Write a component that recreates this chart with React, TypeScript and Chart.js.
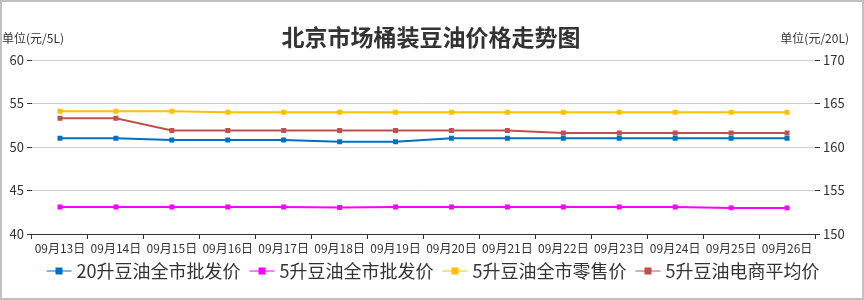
import { useEffect, useRef } from 'react';
import { Chart, registerables } from 'chart.js';

Chart.register(...registerables);

const FONT = "'Microsoft YaHei', 'Noto Sans CJK SC', sans-serif";

const titleText = '北京市场桶装豆油价格走势图';
const leftUnit = '单位(元/5L)';
const rightUnit = '单位(元/20L)';

const categories = [
  '09月13日', '09月14日', '09月15日', '09月16日', '09月17日', '09月18日', '09月19日',
  '09月20日', '09月21日', '09月22日', '09月23日', '09月24日', '09月25日', '09月26日',
];

const seriesNames = ['20升豆油全市批发价', '5升豆油全市批发价', '5升豆油全市零售价', '5升豆油电商平均价'];
const seriesColors = ['#0070C0', '#FF00FF', '#FFC000', '#C0504D'];
const seriesFade = ['rgba(0,112,192,0.5)', 'rgba(255,0,255,0.5)', 'rgba(255,192,0,0.5)', 'rgba(192,80,77,0.5)'];

const wholesale20L = [161.0, 161.0, 160.8, 160.8, 160.8, 160.6, 160.6, 161.0, 161.0, 161.0, 161.0, 161.0, 161.0, 161.0];
const wholesale5L = [43.1, 43.1, 43.1, 43.1, 43.1, 43.05, 43.1, 43.1, 43.1, 43.1, 43.1, 43.1, 43.0, 43.0];
const retail5L = [54.1, 54.1, 54.1, 54.0, 54.0, 54.0, 54.0, 54.0, 54.0, 54.0, 54.0, 54.0, 54.0, 54.0];
const ecommerce5L = [53.3, 53.3, 51.9, 51.9, 51.9, 51.9, 51.9, 51.9, 51.9, 51.6, 51.6, 51.6, 51.6, 51.6];

const leftMin = 40, leftMax = 60, rightMin = 150, rightMax = 170, tickStep = 5;

const decorPlugin = {
  id: 'decor',
  afterDraw(chart: any) {
    const ctx = chart.ctx as CanvasRenderingContext2D;
    const W = chart.width;
    ctx.save();
    // title
    ctx.fillStyle = '#333';
    ctx.font = `bold 23px ${FONT}`;
    ctx.textAlign = 'center';
    ctx.textBaseline = 'middle';
    ctx.fillText(titleText, 431, 37);
    // unit labels
    ctx.font = `12px ${FONT}`;
    ctx.textAlign = 'left';
    ctx.fillText(leftUnit, 2, 38);
    ctx.textAlign = 'right';
    ctx.fillText(rightUnit, 849, 38);
    // legend
    ctx.font = `18px ${FONT}`;
    const symW = 25, symGap = 5, itemGap = 9;
    const widths = seriesNames.map((n) => symW + symGap + ctx.measureText(n).width);
    const total = widths.reduce((a, b) => a + b, 0) + itemGap * (widths.length - 1);
    let x = 433 - total / 2;
    const y = 271;
    seriesNames.forEach((n, i) => {
      ctx.strokeStyle = seriesFade[i];
      ctx.lineWidth = 2;
      ctx.beginPath();
      ctx.moveTo(x, y);
      ctx.lineTo(x + symW, y);
      ctx.stroke();
      ctx.fillStyle = seriesColors[i];
      ctx.fillRect(x + symW / 2 - 3.5, y - 3.5, 7, 7);
      ctx.fillStyle = '#333';
      ctx.textAlign = 'left';
      ctx.textBaseline = 'middle';
      ctx.fillText(n, x + symW + symGap, y);
      x += widths[i] + itemGap;
    });
    // frame
    ctx.strokeStyle = '#c0c0c0';
    ctx.lineWidth = 2;
    ctx.strokeRect(1, 1, W - 2, chart.height - 2);
    ctx.restore();
  },
};

export default function App() {
  const ref = useRef<HTMLCanvasElement>(null);
  useEffect(() => {
    if (!ref.current) return;
    const mk = (label: string, data: number[], i: number, axis: string) => ({
      label,
      data,
      yAxisID: axis,
      borderColor: seriesColors[i],
      backgroundColor: seriesColors[i],
      borderWidth: 2,
      pointStyle: 'rect',
      pointRadius: 3.5,
      pointHoverRadius: 3.5,
      pointBorderWidth: 0,
      tension: 0,
      fill: false,
    });
    const chart = new Chart(ref.current, {
      type: 'line',
      data: {
        labels: categories,
        datasets: [
          mk(seriesNames[0], wholesale20L, 0, 'y1'),
          mk(seriesNames[1], wholesale5L, 1, 'y'),
          mk(seriesNames[2], retail5L, 2, 'y'),
          mk(seriesNames[3], ecommerce5L, 3, 'y'),
        ] as any,
      },
      options: {
        responsive: false,
        animation: false,
        layout: { padding: { top: 60, left: 0, right: 0, bottom: 0 } },
        plugins: { legend: { display: false }, title: { display: false }, tooltip: { enabled: false } },
        scales: {
          x: {
            type: 'category',
            offset: true,
            grid: { display: true, drawOnChartArea: false, offset: true, tickColor: '#333', tickLength: 5 },
            border: { display: true, color: '#333', width: 1 },
            ticks: { color: '#333', font: { family: FONT, size: 12 }, padding: 2, maxRotation: 0, autoSkip: false },
            afterFit: (s: any) => { s.height = 66; },
          },
          y: {
            position: 'left',
            min: leftMin,
            max: leftMax,
            ticks: { stepSize: tickStep, color: '#333', font: { family: FONT, size: 13 }, padding: 3 },
            grid: { color: '#ccc', tickColor: '#333', tickLength: 5 },
            border: { display: false },
            afterFit: (s: any) => { s.width = 32; },
          },
          y1: {
            position: 'right',
            min: rightMin,
            max: rightMax,
            ticks: { stepSize: tickStep, color: '#333', font: { family: FONT, size: 13 }, padding: 3 },
            grid: { drawOnChartArea: false, tickColor: '#333', tickLength: 5 },
            border: { display: false },
            afterFit: (s: any) => { s.width = 49; },
          },
        },
      } as any,
      plugins: [decorPlugin],
    });
    return () => chart.destroy();
  }, []);
  return (
    <div style={{ position: 'fixed', left: 0, top: 0, width: 864, height: 300, background: '#fff' }}>
      <canvas ref={ref} width={864} height={300} style={{ display: 'block' }} />
    </div>
  );
}
